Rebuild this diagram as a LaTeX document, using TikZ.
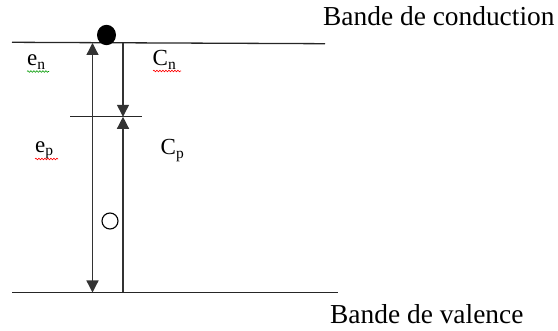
\documentclass[tikz,border=0pt]{standalone}
\usepackage{fontspec}
\setmainfont{Liberation Serif}
\usetikzlibrary{arrows.meta,decorations.pathmorphing}

\begin{document}
\begin{tikzpicture}[x=1pt,y=-1pt,>={Triangle[length=12pt,width=12pt]},
    niveau/.style={line width=1.3pt,black!85},
    trans/.style={line width=1.3pt,black!80},
    lab/.style={anchor=base west,inner sep=0pt,font=\fontsize{23}{27}\selectfont},
    bande/.style={anchor=base west,inner sep=0pt,font=\fontsize{27.4}{32}\selectfont},
    souligne/.style={decorate,decoration={snake,amplitude=0.8pt,segment length=3pt},line width=0.6pt}]
            \useasboundingbox (0,0) rectangle (558,331);
            % niveaux
            \coordinate (bcA) at (12,42.3);
            \coordinate (bcB) at (325,43.7);
            \coordinate (bvA) at (12,292.5);
            \coordinate (bvB) at (338,292.5);
            \coordinate (etA) at (70,116.8);
            \coordinate (etB) at (142,116.8);
            \draw [niveau] (bcA) -- (bcB);
            \draw [niveau] (bvA) -- (bvB);
            \draw [niveau] (etA) -- (etB);
            % transitions
            \coordinate (en0) at (92.5,43);
            \coordinate (ep0) at (92.5,292.5);
            \coordinate (cn0) at (123,43.3);
            \coordinate (ct0) at (123,116.8);
            \coordinate (cp0) at (123,292.5);
            \draw [trans,<->] (en0) -- (ep0);
            \draw [trans,->] (cn0) -- (ct0);
            \draw [trans,->] (cp0) -- (ct0);
            % porteurs
            \fill (106.5,35) ellipse [x radius=9.5pt,y radius=10.2pt];
            \draw [line width=1.1pt] (110,221) circle [radius=8pt];
            % textes
            \node [lab] (en) at (27,66) {e\raisebox{-3.5pt}{\fontsize{15.5}{17}\selectfont n}};
            \node [lab] (cn) at (152.5,65.7) {C\raisebox{-3.5pt}{\fontsize{15.5}{17}\selectfont n}};
            \node [lab] (ep) at (35,152.5) {e\raisebox{-3.5pt}{\fontsize{15.5}{17}\selectfont p}};
            \node [lab] (cp) at (160.5,155) {C\raisebox{-3.5pt}{\fontsize{15.5}{17}\selectfont p}};
            \node [bande] (bc) at (323,26) {Bande de conduction};
            \node [bande] (bv) at (330,324) {Bande de valence};
            \draw [souligne,green!60!black] (27,71.5) -- (49,71.5);
            \draw [souligne,red] (153,71) -- (181,71);
            \draw [souligne,red] (35,159) -- (58,159);
        \end{tikzpicture}
\end{document}
